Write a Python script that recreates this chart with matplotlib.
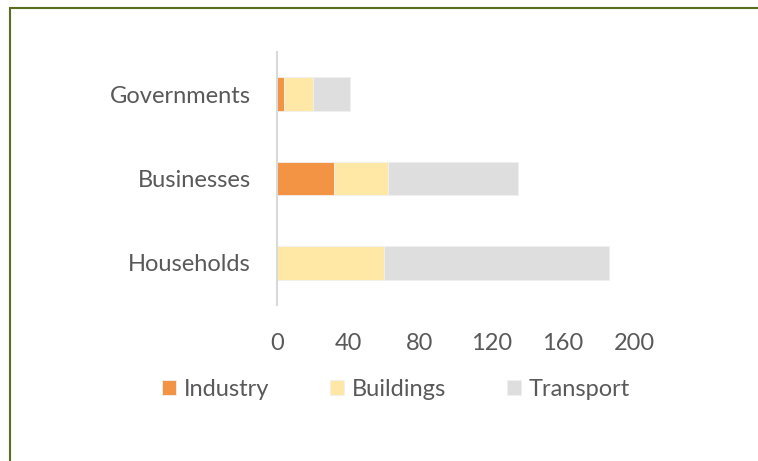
import matplotlib.pyplot as plt
from matplotlib.patches import Rectangle

plt.rcParams['font.family'] = ['Lato', 'DejaVu Sans']

categories = ["Households", "Businesses", "Governments"]
industry = [0, 32, 4]
buildings = [60, 30, 16]
transport = [126, 73, 21]

series_names = ["Industry", "Buildings", "Transport"]
colors = ["#f29444", "#ffe8a6", "#dedede"]
xticks = [0, 40, 80, 120, 160, 200]
text_color = "#595959"

fig = plt.figure(figsize=(7.58, 4.61), dpi=100)
ax = fig.add_axes([0.3654, 0.3384, 0.8364 - 0.3654, 0.8872 - 0.3384])

# outer chart border (only top/left visible in the crop)
fig.patches.append(Rectangle((10 / 758, -0.1), 1.2, 1.1 - 8 / 461 + 0.001,
                             transform=fig.transFigure, fill=False,
                             edgecolor="#5b6e1c", linewidth=1.5))

y = range(len(categories))
left = [0] * len(categories)
for name, vals, col in zip(series_names, [industry, buildings, transport], colors):
    ax.barh(y, vals, left=left, height=0.4, color=col, label=name,
            edgecolor="#f0f0f0", linewidth=0.6)
    left = [a + b for a, b in zip(left, vals)]

ax.set_xlim(0, 200)
ax.set_ylim(-0.5, 2.5)
ax.set_xticks(xticks)
ax.set_yticks(list(y))
ax.set_yticklabels(categories)
ax.tick_params(axis="both", length=0, labelsize=17, colors=text_color)
ax.tick_params(axis="x", pad=20)
ax.tick_params(axis="y", pad=19)
for s in ["top", "right", "bottom"]:
    ax.spines[s].set_visible(False)
ax.spines["left"].set_color("#d9d9d9")
ax.spines["left"].set_linewidth(1.5)

fig.legend(loc="center", bbox_to_anchor=(396 / 758, 1 - 389 / 461), ncol=3,
           frameon=False, fontsize=17, labelcolor=text_color,
           handlelength=0.6, handleheight=0.6, handletextpad=0.3,
           columnspacing=2.6)

fig.savefig("out.png", dpi=100)
